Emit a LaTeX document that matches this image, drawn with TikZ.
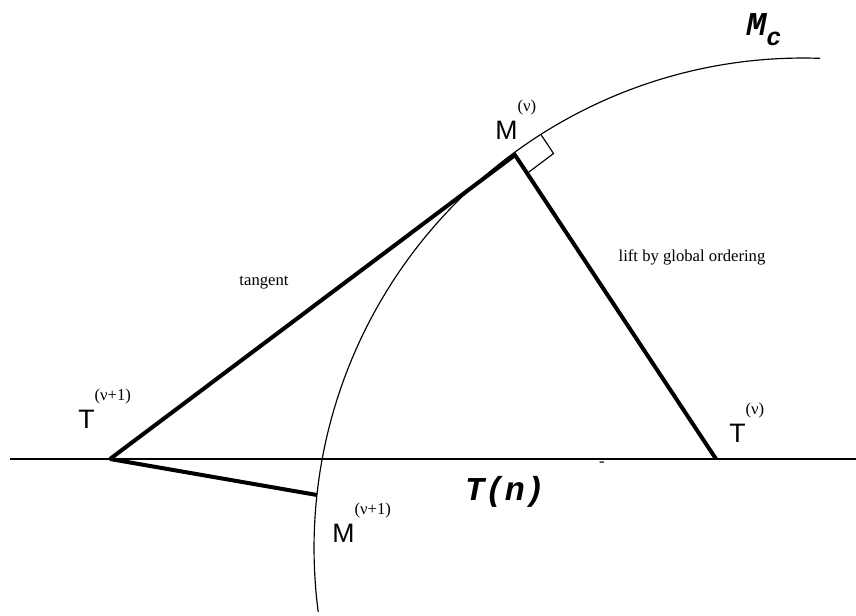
\documentclass[tikz,border=0pt]{standalone}
\usepackage{fontspec}
\setmainfont{Liberation Serif}
\newfontfamily\helv{Liberation Sans}
\newfontfamily\cour{Liberation Mono}
\usepackage{tikz}
\usetikzlibrary{positioning,calc}
\newcommand{\supv}[1]{\raisebox{17pt}{\fontsize{10}{12}\rmfamily #1}}

\begin{document}
\begin{tikzpicture}[
    x=0.6pt, y=-0.6pt,
    thin line/.style={line width=0.7pt},
    thick line/.style={line width=2.4pt, line join=miter},
    caption/.style={inner sep=0pt, font=\fontsize{10}{12}\selectfont},
    point label/.style={inner sep=0pt, anchor=base west, font=\fontsize{16}{18}\helv},
    set label/.style={inner sep=0pt, font=\fontsize{20}{22}\cour\bfseries\itshape}
]
\useasboundingbox (0,0) rectangle (856,616);

% points of the construction
\coordinate (tvp) at (110,459);
\coordinate (mv) at (515,155);
\coordinate (tv) at (716,459);
\coordinate (mvp) at (317,495);
\coordinate (lnl) at (10,459);
\coordinate (lnr) at (856,459);

% the manifold (an arc) and the line T(n)
\draw[thin line, variable=\t, domain=172.5:272, samples=80] plot ({803+489*cos(\t)}, {548+490*sin(\t)});
\draw[thin line] (lnl) -- (lnr);

% thick segments
\draw[thick line] (tvp) -- (mv) -- (tv);
\draw[thick line] (tvp) -- (mvp);

% right angle at M
\coordinate (ra1) at ($(mv)!-19.8pt!(tvp)$);
\coordinate (ra2) at ($(mv)!13.2pt!(tv)$);
\draw[thin line] (ra1) -- ($(ra1)+(ra2)-(mv)$) -- (ra2);

% labels
\node[point label] (ltvp) at (78,429) {T\supv{(ν+1)}};
\node[point label] (lmv) at (495,140) {M\supv{(ν)}};
\node[point label] (ltv) at (729,443) {T\supv{(ν)}};
\node[point label] (lmvp) at (332,543) {M\supv{(ν+1)}};
\node[caption] (tangent) at (264,283) {tangent};
\node[caption] (lift) at (692,257) {lift by global ordering};
\node[set label, anchor=base west] (mc) at (746,36) {M\raisebox{-6pt}{\fontsize{15}{16}\selectfont c}};
\node[set label] (tn) at (505,492) {T(n)};
\node[caption] (dash) at (602,464) {-};

\end{tikzpicture}
\end{document}
